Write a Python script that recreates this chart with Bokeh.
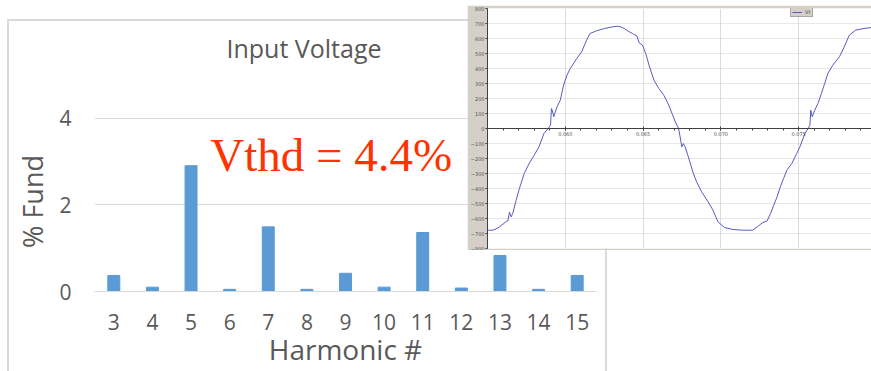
from bokeh.plotting import figure
from bokeh.models import (FactorRange, Range1d, FixedTicker, PrintfTickFormatter,
                          Label, GridBox)
from bokeh.embed import file_html
from bokeh.resources import INLINE

# ---------------- data: harmonic spectrum ----------------
harmonic = ["3", "4", "5", "6", "7", "8", "9", "10", "11", "12", "13", "14", "15"]
pct_fund = [0.37, 0.10, 2.90, 0.05, 1.49, 0.05, 0.42, 0.10, 1.36, 0.08, 0.83, 0.05, 0.37]
pct_ticks = [0, 2, 4]
title_text = "Input Voltage"
x_label = "Harmonic #"
y_label = "% Fund"
thd_text = "Vthd = 4.4%"

# ---------------- data: voltage waveform (inset) ----------------
wave_time = [0.05504, 0.05536, 0.05568, 0.05599, 0.05620, 0.05631, 0.05641, 0.05652,
             0.05662, 0.05684, 0.05705, 0.05736, 0.05768, 0.05800, 0.05831, 0.05863,
             0.05890, 0.05905, 0.05911, 0.05916, 0.05926, 0.05932, 0.05947, 0.05968,
             0.05989, 0.06011, 0.06032, 0.06074, 0.06105, 0.06137, 0.06158, 0.06200,
             0.06253, 0.06306, 0.06338, 0.06369, 0.06401, 0.06432, 0.06460, 0.06475,
             0.06496, 0.06517, 0.06538, 0.06570, 0.06601, 0.06633, 0.06665, 0.06686,
             0.06707, 0.06728, 0.06738, 0.06749, 0.06759, 0.06770, 0.06791, 0.06823,
             0.06844, 0.06876, 0.06918, 0.06949, 0.06981, 0.07023, 0.07076, 0.07139,
             0.07203, 0.07234, 0.07266, 0.07297, 0.07319, 0.07340, 0.07361, 0.07382,
             0.07403, 0.07424, 0.07456, 0.07487, 0.07508, 0.07540, 0.07561, 0.07572,
             0.07578, 0.07587, 0.07603, 0.07624, 0.07646, 0.07667, 0.07688, 0.07719,
             0.07762, 0.07793, 0.07825, 0.07867, 0.07920, 0.07966]
wave_volts = [-678, -678, -662, -638, -620, -616, -558, -589,
              -567, -478, -400, -300, -233, -178, -122, -33,
              0, 22, 133, 122, 78, 100, 144, 189,
              289, 356, 400, 467, 511, 589, 633, 651,
              667, 678, 682, 673, 651, 633, 616, 571,
              556, 500, 422, 322, 267, 222, 156, 100,
              44, 0, -56, -122, -100, -122, -189, -300,
              -356, -422, -489, -544, -622, -660, -673, -678,
              -678, -656, -629, -616, -567, -511, -456, -389,
              -333, -278, -233, -167, -122, -33, 0, 22,
              122, 78, 122, 167, 233, 300, 367, 422,
              478, 544, 622, 656, 667, 673]
wave_xticks = [0.060, 0.065, 0.070, 0.075]
wave_minor = [0.055, 0.056, 0.057, 0.058, 0.059, 0.060, 0.061, 0.062, 0.063, 0.064,
              0.065, 0.066, 0.067, 0.068, 0.069, 0.070, 0.071, 0.072, 0.073, 0.074,
              0.075, 0.076, 0.077, 0.078, 0.079]
wave_yticks = [-800, -700, -600, -500, -400, -300, -200, -100, 0,
               100, 200, 300, 400, 500, 600, 700, 800]
wave_legend = "Vt"

FONT = "Open Sans"
TXT = "#595959"
LIGHT = "#d9d9d9"

# ---------------- bar chart ----------------
bar = figure(width=596, height=350,
             x_range=FactorRange(factors=harmonic, range_padding=0),
             y_range=Range1d(0, 4.15),
             output_backend="svg", toolbar_location=None,
             min_border_left=85, min_border_right=9,
             min_border_top=90, min_border_bottom=80)
bar.vbar(x=harmonic, top=pct_fund, width=0.31, color="#5b9bd5")

bar.outline_line_color = None
bar.xgrid.grid_line_color = None
bar.ygrid.grid_line_color = LIGHT

xa = bar.xaxis[0]
xa.axis_line_color = LIGHT
xa.major_tick_line_color = None
xa.minor_tick_line_color = None
xa.major_label_text_font = FONT
xa.major_label_text_font_size = "21px"
xa.major_label_text_color = TXT
xa.major_label_standoff = 16
xa.axis_label = x_label
xa.axis_label_text_font = FONT
xa.axis_label_text_font_size = "28px"
xa.axis_label_text_font_style = "normal"
xa.axis_label_text_color = TXT
xa.axis_label_standoff = -3

ya = bar.yaxis[0]
ya.ticker = FixedTicker(ticks=pct_ticks)
ya.axis_line_color = None
ya.major_tick_line_color = None
ya.minor_tick_line_color = None
ya.major_label_text_font = FONT
ya.major_label_text_font_size = "21px"
ya.major_label_text_color = TXT
ya.major_label_standoff = 17
ya.axis_label = y_label
ya.axis_label_text_font = FONT
ya.axis_label_text_font_size = "27px"
ya.axis_label_text_font_style = "normal"
ya.axis_label_text_color = TXT
ya.axis_label_standoff = 5

bar.add_layout(Label(x=3.0, y=2.55, text=thd_text, text_font="Liberation Serif",
                     text_font_size="47px", text_color="#ff3300"))

# light chart-area border drawn as a shadow so it takes no layout space
bar.styles = {"box-shadow": "0 0 0 2px #d9d9d9"}

# ---------------- chart title (transparent strip over the chart area) ----------------
ttl = figure(width=458, height=50, x_axis_type=None, y_axis_type=None,
             output_backend="svg", toolbar_location=None,
             min_border_left=0, min_border_right=0, min_border_top=0, min_border_bottom=0)
ttl.title.text = title_text
ttl.title.text_font = FONT
ttl.title.text_font_size = "25px"
ttl.title.text_font_style = "normal"
ttl.title.text_color = TXT
ttl.title.align = "left"
ttl.title.offset = 132
ttl.title.standoff = 10
ttl.background_fill_alpha = 0
ttl.border_fill_alpha = 0
ttl.outline_line_color = None
ttl.xgrid.visible = False
ttl.ygrid.visible = False

# ---------------- inset waveform ----------------
ins = figure(width=404, height=245,
             x_range=Range1d(0.05500, 0.07968), y_range=Range1d(-800, 800),
             output_backend="svg", toolbar_location=None,
             min_border_left=14, min_border_right=0,
             min_border_top=3, min_border_bottom=2)
ins.border_fill_color = "#d4d0c8"
ins.background_fill_color = "white"
ins.outline_line_color = None
ins.line(wave_time, wave_volts, color="#5a5ac0", line_width=1, legend_label=wave_legend)

ix = ins.xaxis[0]
ix.fixed_location = 0
ix.ticker = FixedTicker(ticks=wave_xticks, minor_ticks=wave_minor)
ix.formatter = PrintfTickFormatter(format="%.3f")
ix.axis_line_color = "#404040"
ix.major_tick_line_color = "#404040"
ix.minor_tick_line_color = "#404040"
ix.major_tick_in = 2
ix.major_tick_out = 2
ix.minor_tick_in = 0
ix.minor_tick_out = 2
ix.major_label_text_font = "DejaVu Sans"
ix.major_label_text_font_size = "5px"
ix.major_label_text_color = "#505050"
ix.major_label_standoff = 1

iy = ins.yaxis[0]
iy.ticker = FixedTicker(ticks=wave_yticks)
iy.axis_line_color = "#404040"
iy.major_tick_line_color = "#404040"
iy.minor_tick_line_color = None
iy.major_tick_in = 0
iy.major_tick_out = 2
iy.major_label_text_font = "DejaVu Sans"
iy.major_label_text_font_size = "5px"
iy.major_label_text_color = "#505050"
iy.major_label_standoff = 1

ins.xgrid.grid_line_color = "#b8b8b8"
ins.xgrid.grid_line_dash = "1 1"
ins.ygrid.grid_line_color = "#d0d0d0"
ins.ygrid.grid_line_dash = "1 1"

lg = ins.legend[0]
lg.location = (303, 231)
lg.label_text_font = "DejaVu Sans"
lg.label_text_font_size = "5px"
lg.label_height = 6
lg.label_width = 6
lg.glyph_height = 6
lg.glyph_width = 10
lg.padding = 1
lg.margin = 0
lg.spacing = 0
lg.label_standoff = 3
lg.border_line_color = "#808080"
lg.background_fill_color = "#d4d0c8"
lg.background_fill_alpha = 1

# ---------------- overlapping layout (title and inset above bar chart) ----------------
layout = GridBox(children=[(bar, 2, 1, 2, 2), (ttl, 2, 1, 1, 1), (ins, 1, 2, 2, 2)],
                 rows=["5px", "16px", "229px", "121px"],
                 cols=["9px", "458px", "138px", "266px"])

open("out.html", "w").write(file_html(layout, INLINE))
